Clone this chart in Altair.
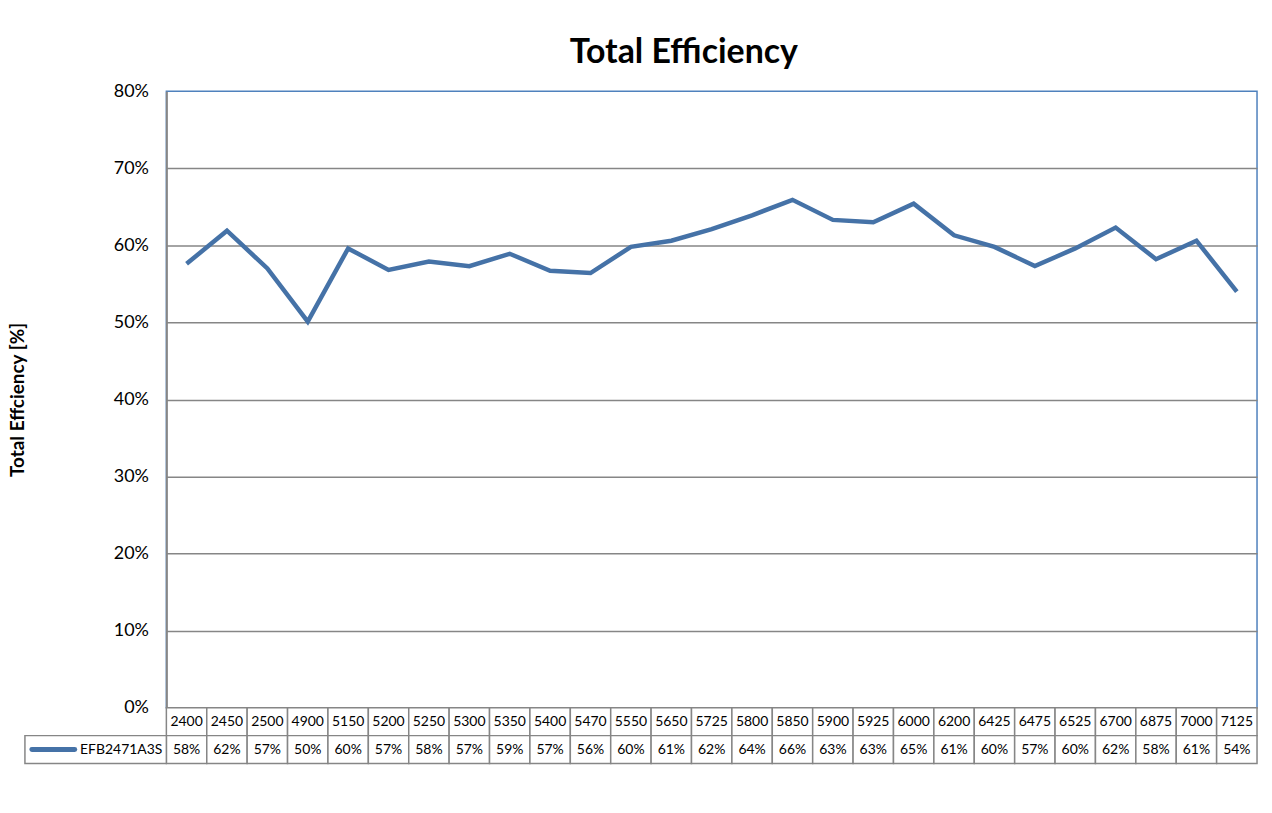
import altair as alt
import pandas as pd

FONT = "Lato"
LINE_BLUE = "#4572A7"
FRAME_BLUE = "#4F81BD"
GRID_GREY = "#868686"

# --- DATA ---
freqs = [
    "2400", "2450", "2500", "4900", "5150", "5200", "5250", "5300", "5350",
    "5400", "5470", "5550", "5650", "5725", "5800", "5850", "5900", "5925",
    "6000", "6200", "6425", "6475", "6525", "6700", "6875", "7000", "7125",
]
efficiency = [
    0.576, 0.619, 0.570, 0.501, 0.596, 0.568, 0.579, 0.573, 0.589,
    0.567, 0.564, 0.598, 0.606, 0.621, 0.639, 0.659, 0.633, 0.630,
    0.654, 0.613, 0.598, 0.573, 0.596, 0.623, 0.582, 0.606, 0.540,
]
y_ticks = [0.0, 0.1, 0.2, 0.3, 0.4, 0.5, 0.6, 0.7, 0.8]
series_name = "EFB2471A3S"
table_rows = ["freq", "pct"]

df = pd.DataFrame({"freq": freqs, "eff": efficiency})

# data table under the plot: one row of frequencies, one row of rounded values
df_table = pd.concat(
    [
        pd.DataFrame({"freq": freqs, "row": "freq", "label": freqs}),
        pd.DataFrame(
            {"freq": freqs, "row": "pct", "label": [f"{v:.0%}" for v in efficiency]}
        ),
    ]
)
df_legend = pd.DataFrame({"row": ["pct"], "series": [series_name]})

W = 1095
H_PLOT = 619
H_TABLE = 56


def create_line_chart(df):
    return (
        alt.Chart(df)
        .mark_line(color=LINE_BLUE, strokeWidth=4.5)
        .encode(
            x=alt.X("freq:N", sort=freqs, axis=None),
            y=alt.Y(
                "eff:Q",
                scale=alt.Scale(domain=[0, 0.8], nice=False),
                title="Total Effciency [%]",
                axis=alt.Axis(
                    values=y_ticks,
                    format=".0%",
                    ticks=False,
                    labelPadding=18,
                    labelFontSize=18,
                    labelColor="black",
                    labelFont=FONT,
                    domainColor=GRID_GREY,
                    domainWidth=2,
                    gridColor=GRID_GREY,
                    gridWidth=1.5,
                    gridOpacity=alt.condition(
                        "datum.value >= 0.79", alt.value(0), alt.value(1)
                    ),
                    titleFont=FONT,
                    titleFontSize=19,
                    titleFontWeight="bold",
                    titleColor="black",
                    titleX=-139,
                    titleY=H_PLOT / 2,
                ),
            ),
        )
        .properties(
            width=W,
            height=H_PLOT,
            view=alt.ViewBackground(stroke=FRAME_BLUE, strokeWidth=1.5),
            title=alt.TitleParams(
                "Total Efficiency",
                font=FONT,
                fontSize=34,
                fontWeight="bold",
                color="black",
                frame="group",
                dx=-28,
                offset=12,
            ),
        )
    )


def create_data_table(df_table, df_legend):
    x_tab = alt.X(
        "freq:N", sort=freqs, axis=None, scale=alt.Scale(paddingInner=0, paddingOuter=0)
    )
    y_tab = alt.Y(
        "row:N",
        sort=table_rows,
        axis=None,
        scale=alt.Scale(domain=table_rows, paddingInner=0, paddingOuter=0),
    )
    cells = (
        alt.Chart(df_table)
        .mark_rect(fill="white", stroke=GRID_GREY, strokeWidth=1.5)
        .encode(x=x_tab, y=y_tab)
    )
    texts = (
        alt.Chart(df_table)
        .mark_text(font=FONT, fontSize=14, color="black")
        .encode(x=x_tab, y=y_tab, text="label:N")
    )
    legend_cell = (
        alt.Chart(df_legend)
        .mark_rect(fill="white", stroke=GRID_GREY, strokeWidth=1.5)
        .encode(x=alt.value(-142), x2=alt.value(0), y=y_tab)
    )
    legend_key = (
        alt.Chart(df_legend)
        .mark_rule(color=LINE_BLUE, strokeWidth=5, strokeCap="round")
        .encode(x=alt.value(-135), x2=alt.value(-92), y=y_tab)
    )
    legend_text = (
        alt.Chart(df_legend)
        .mark_text(font=FONT, fontSize=14, color="black", align="right")
        .encode(x=alt.value(-4), y=y_tab, text="series:N")
    )
    return alt.layer(cells, texts, legend_cell, legend_key, legend_text).properties(
        width=W,
        height=H_TABLE,
        view=alt.ViewBackground(stroke="transparent"),
    )


chart = (
    alt.vconcat(
        create_line_chart(df),
        create_data_table(df_table, df_legend),
        spacing=0,
        bounds="flush",
    )
    .properties(
        padding={"left": 0, "top": 26, "right": 5, "bottom": 5},
        background="white",
    )
    .configure(font=FONT)
)

chart.save("out.html", embed_options={"renderer": "svg", "actions": False})
